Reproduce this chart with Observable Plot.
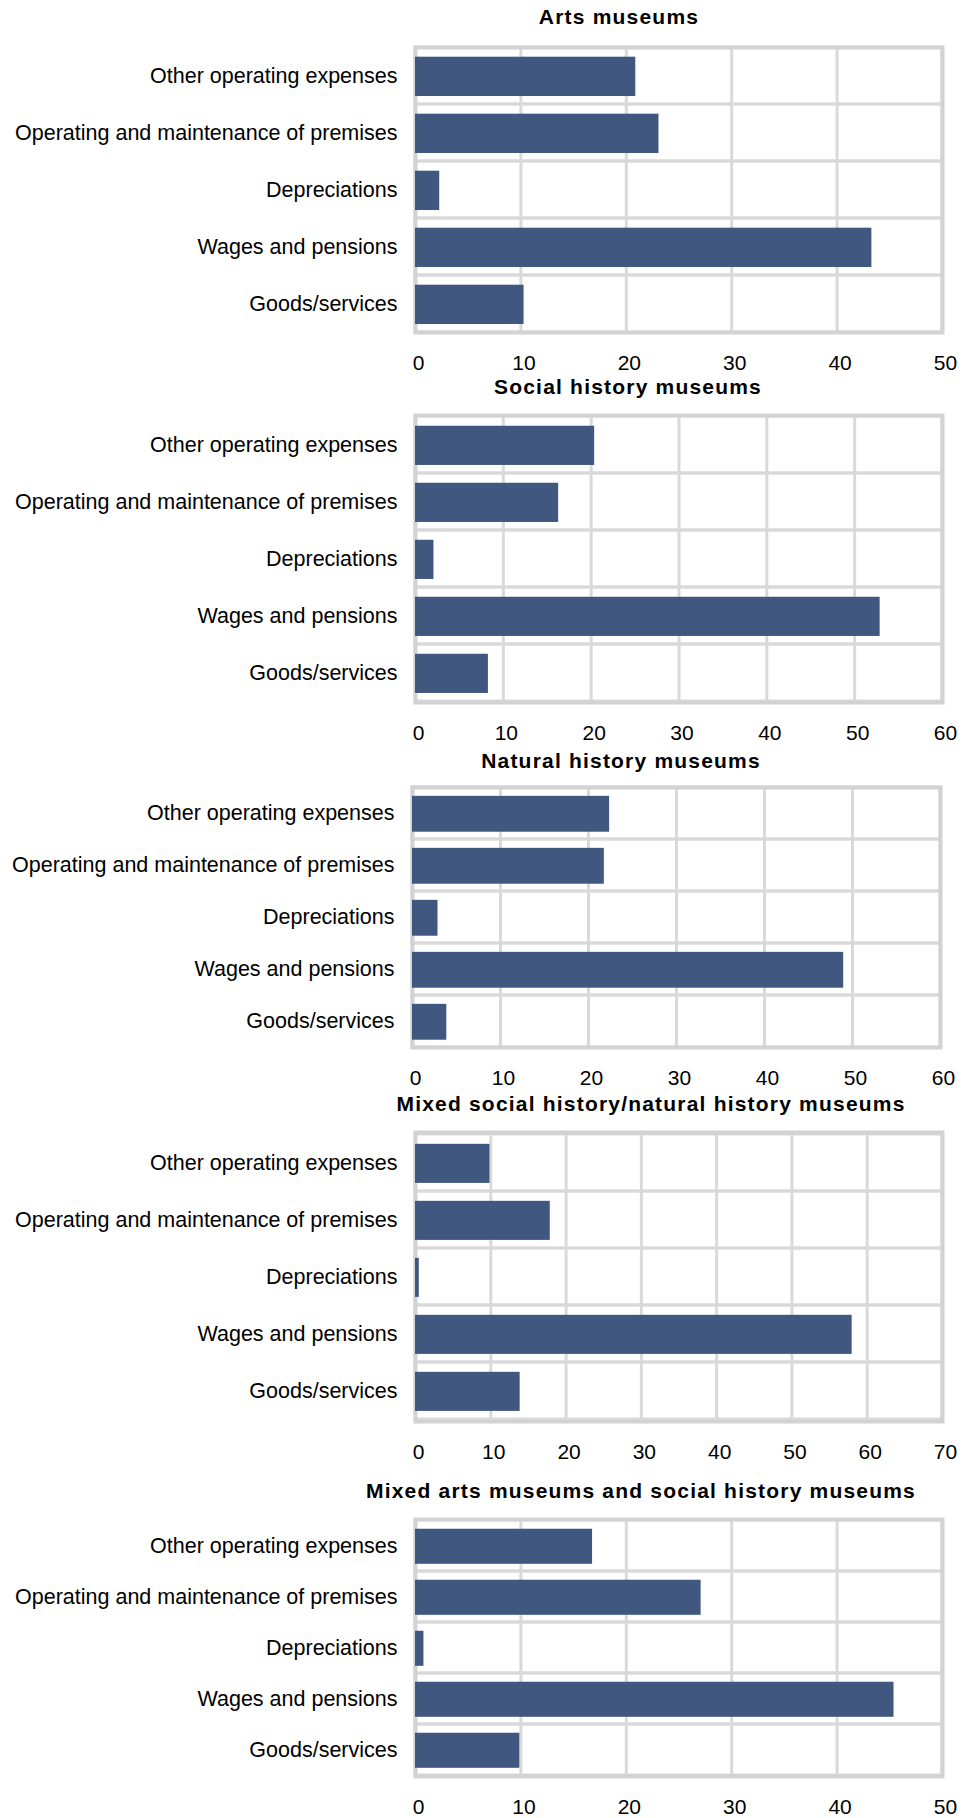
<!DOCTYPE html>
<html>
<head>
<meta charset="utf-8">
<script src="https://cdn.jsdelivr.net/npm/d3@7"></script>
<script src="https://cdn.jsdelivr.net/npm/@observablehq/plot@0.6"></script>
<style>
  html, body { margin: 0; padding: 0; background: #fff; overflow: hidden; }
  #root { position: relative; width: 970px; height: 1818px; font-family: "Liberation Sans", Arial, sans-serif; }
  .title { position: absolute; font-weight: bold; font-size: 21px; letter-spacing: 1.2px; line-height: 24px;
           white-space: nowrap; transform: translateX(-50%); color: #000; }
  .panel { position: absolute; left: 0; }
</style>
</head>
<body>
<div id="root"></div>
<script>
// ---- data ----
const categories = [
  "Other operating expenses",
  "Operating and maintenance of premises",
  "Depreciations",
  "Wages and pensions",
  "Goods/services"
];
const panelTitles = [
  "Arts museums",
  "Social history museums",
  "Natural history museums",
  "Mixed social history/natural history museums",
  "Mixed arts museums and social history museums"
];
const artsMuseums        = [20.9, 23.1, 2.3, 43.3, 10.3];
const socialHistory      = [20.4, 16.3, 2.1, 52.9, 8.3];
const naturalHistory     = [22.4, 21.8, 2.9, 49.0, 3.9];
const mixedSocialNatural = [9.9, 17.9, 0.5, 58.0, 13.9];
const mixedArtsSocial    = [16.8, 27.1, 0.8, 45.4, 9.9];
const ticks1 = [0, 10, 20, 30, 40, 50];
const ticks2 = [0, 10, 20, 30, 40, 50, 60];
const ticks3 = [0, 10, 20, 30, 40, 50, 60];
const ticks4 = [0, 10, 20, 30, 40, 50, 60, 70];
const ticks5 = [0, 10, 20, 30, 40, 50];

const seriesList = [artsMuseums, socialHistory, naturalHistory, mixedSocialNatural, mixedArtsSocial];
const tickList = [ticks1, ticks2, ticks3, ticks4, ticks5];

// ---- layout (styles only) ----
const layout = [
  {titleX: 619, titleY: 17,   frameTop: 47,   frameH: 285, left: 415, right: 942},
  {titleX: 628, titleY: 387,  frameTop: 415,  frameH: 287, left: 415, right: 942},
  {titleX: 621, titleY: 761,  frameTop: 787,  frameH: 260, left: 412, right: 940},
  {titleX: 651, titleY: 1104, frameTop: 1132, frameH: 289, left: 415, right: 942},
  {titleX: 641, titleY: 1491, frameTop: 1519, frameH: 257, left: 415, right: 942}
];

const root = document.getElementById("root");
const barColor = "#405880";
const gridColor = "#d9d9d9";
const mt = 3, mb = 42;

layout.forEach((L, i) => {
  const t = document.createElement("div");
  t.className = "title";
  t.textContent = panelTitles[i];
  t.style.left = L.titleX + "px";
  t.style.top = (L.titleY - 12) + "px";
  root.appendChild(t);

  const values = seriesList[i];
  const ticks = tickList[i];
  const data = categories.map((c, j) => ({category: c, value: values[j]}));
  const step = L.frameH / categories.length;

  const chart = Plot.plot({
    width: 970,
    height: mt + L.frameH + mb,
    marginTop: mt,
    marginBottom: mb,
    marginLeft: L.left,
    marginRight: 970 - L.right,
    style: {fontFamily: "'Liberation Sans', Arial, sans-serif", fontSize: "21px", color: "#000", background: "transparent"},
    x: {domain: [ticks[0], ticks[ticks.length - 1]]},
    y: {domain: categories, padding: 0},
    marks: [
      Plot.gridX(ticks, {stroke: gridColor, strokeWidth: 3, strokeOpacity: 1}),
      Plot.cell(categories, {y: d => d, fill: "none", stroke: gridColor, strokeWidth: 3, inset: 0}),
      Plot.frame({stroke: "#d2d2d2", strokeWidth: 4}),
      Plot.barX(data, {x: "value", y: "category", fill: barColor,
                       insetTop: step * 0.17, insetBottom: step * 0.14}),
      Plot.axisX(ticks, {tickSize: 0, tickPadding: 23, fontSize: 21, dx: 3, label: null, tickFormat: d => String(d)}),
      Plot.axisY({tickSize: 0, tickPadding: 18, fontSize: 21.5, label: null})
    ]
  });
  const wrap = document.createElement("div");
  wrap.className = "panel";
  wrap.style.top = (L.frameTop - mt) + "px";
  wrap.appendChild(chart);
  root.appendChild(wrap);
});
</script>
</body>
</html>
